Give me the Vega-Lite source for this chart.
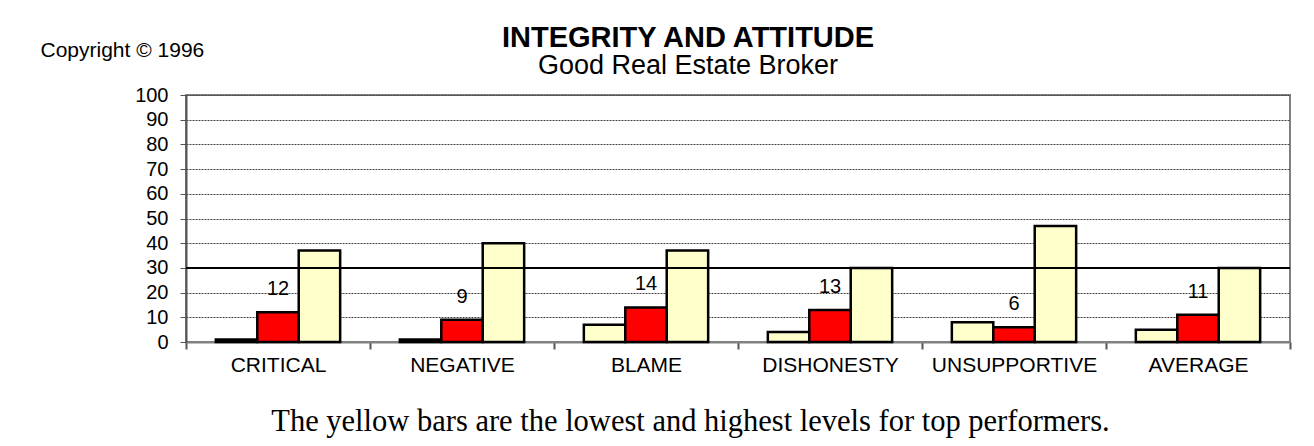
{
  "$schema": "https://vega.github.io/schema/vega-lite/v6.json",
  "width": 1104,
  "height": 247,
  "autosize": "none",
  "padding": {"left": 186, "top": 95, "right": 24, "bottom": 104},
  "background": "white",
  "title": {
    "text": "INTEGRITY AND ATTITUDE",
    "subtitle": "Good Real Estate Broker",
    "anchor": "middle",
    "dx": -50,
    "offset": -40,
    "font": "Liberation Sans",
    "fontSize": 29,
    "fontWeight": "bold",
    "color": "black",
    "subtitleFont": "Liberation Sans",
    "subtitleFontSize": 27,
    "subtitleColor": "black",
    "subtitlePadding": 0
  },
  "config": {
    "view": {"stroke": "#808080", "strokeWidth": 2},
    "font": "Liberation Sans"
  },
  "layer": [
    {
      "data": {
        "values": [
          {"category": "CRITICAL", "series": "low", "value": 1},
          {"category": "CRITICAL", "series": "avg", "value": 12},
          {"category": "CRITICAL", "series": "high", "value": 37},
          {"category": "NEGATIVE", "series": "low", "value": 1},
          {"category": "NEGATIVE", "series": "avg", "value": 9},
          {"category": "NEGATIVE", "series": "high", "value": 40},
          {"category": "BLAME", "series": "low", "value": 7},
          {"category": "BLAME", "series": "avg", "value": 14},
          {"category": "BLAME", "series": "high", "value": 37},
          {"category": "DISHONESTY", "series": "low", "value": 4},
          {"category": "DISHONESTY", "series": "avg", "value": 13},
          {"category": "DISHONESTY", "series": "high", "value": 30},
          {"category": "UNSUPPORTIVE", "series": "low", "value": 8},
          {"category": "UNSUPPORTIVE", "series": "avg", "value": 6},
          {"category": "UNSUPPORTIVE", "series": "high", "value": 47},
          {"category": "AVERAGE", "series": "low", "value": 5},
          {"category": "AVERAGE", "series": "avg", "value": 11},
          {"category": "AVERAGE", "series": "high", "value": 30}
        ]
      },
      "layer": [
        {
          "mark": {"type": "bar", "stroke": "black", "strokeWidth": 2.5},
          "encoding": {
            "x": {
              "field": "category",
              "type": "nominal",
              "sort": ["CRITICAL", "NEGATIVE", "BLAME", "DISHONESTY", "UNSUPPORTIVE", "AVERAGE"],
              "scale": {"paddingInner": 0, "paddingOuter": 0},
              "axis": {
                "title": "The yellow bars are the lowest and highest levels for top performers.",
                "titleFont": "Liberation Serif",
                "titleFontSize": 30.5,
                "titleFontWeight": "normal",
                "titleColor": "black",
                "titleX": 504,
                "titleY": 88,
                "titleAlign": "center",
                "titleBaseline": "alphabetic",
                "labelAngle": 0,
                "labelFont": "Liberation Sans",
                "labelFontSize": 21,
                "labelColor": "black",
                "labelPadding": 5,
                "tickBand": "extent",
                "tickSize": 7,
                "tickColor": "#555",
                "tickWidth": 2,
                "domainColor": "#808080",
                "domainWidth": 2,
                "grid": false
              }
            },
            "xOffset": {
              "field": "series",
              "type": "nominal",
              "sort": ["low", "avg", "high"],
              "scale": {"paddingInner": 0, "paddingOuter": 0.72}
            },
            "y": {
              "field": "value",
              "type": "quantitative",
              "scale": {"domain": [0, 100], "nice": false},
              "axis": {
                "values": [0, 10, 20, 30, 40, 50, 60, 70, 80, 90, 100],
                "tickCount": 11,
                "labelOverlap": false,
                "title": "Copyright © 1996",
                "titleFont": "Liberation Sans",
                "titleFontSize": 21,
                "titleFontWeight": "normal",
                "titleColor": "black",
                "titleAngle": 0,
                "titleAlign": "left",
                "titleBaseline": "alphabetic",
                "titleX": -146,
                "titleY": -39,
                "labelFont": "Liberation Sans",
                "labelFontSize": 20,
                "labelColor": "black",
                "labelPadding": 12,
                "tickSize": 6,
                "tickColor": "#555",
                "domainColor": "#555",
                "domainWidth": 2,
                "grid": true,
                "gridColor": "#444",
                "gridDash": [2, 1],
                "gridWidth": 1
              }
            },
            "color": {
              "field": "series",
              "type": "nominal",
              "scale": {"domain": ["low", "avg", "high"], "range": ["#FFFFCC", "#FF0000", "#FFFFCC"]},
              "legend": null
            }
          }
        },
        {
          "transform": [{"filter": "datum.series === 'avg'"}],
          "mark": {"type": "text", "fontSize": 20, "font": "Liberation Sans", "color": "black", "dy": -23, "baseline": "middle"},
          "encoding": {
            "x": {"field": "category", "type": "nominal", "sort": ["CRITICAL", "NEGATIVE", "BLAME", "DISHONESTY", "UNSUPPORTIVE", "AVERAGE"]},
            "xOffset": {"field": "series", "type": "nominal", "sort": ["low", "avg", "high"]},
            "y": {"field": "value", "type": "quantitative"},
            "text": {"field": "value", "type": "quantitative"}
          }
        }
      ]
    },
    {
      "data": {"values": [{"ref": 30}]},
      "mark": {"type": "rule", "color": "black", "strokeWidth": 2},
      "encoding": {
        "y": {
          "field": "ref",
          "type": "quantitative",
          "axis": {
            "values": [0, 10, 20, 30, 40, 50, 60, 70, 80, 90, 100],
            "tickCount": 11,
            "labelOverlap": false,
            "title": "Copyright © 1996",
            "titleFont": "Liberation Sans",
            "titleFontSize": 21,
            "titleFontWeight": "normal",
            "titleColor": "black",
            "titleAngle": 0,
            "titleAlign": "left",
            "titleBaseline": "alphabetic",
            "titleX": -146,
            "titleY": -39,
            "labelFont": "Liberation Sans",
            "labelFontSize": 20,
            "labelColor": "black",
            "labelPadding": 12,
            "tickSize": 6,
            "tickColor": "#555",
            "domainColor": "#555",
            "domainWidth": 2,
            "grid": true,
            "gridColor": "#444",
            "gridDash": [2, 1],
            "gridWidth": 1
          }
        }
      }
    }
  ]
}
